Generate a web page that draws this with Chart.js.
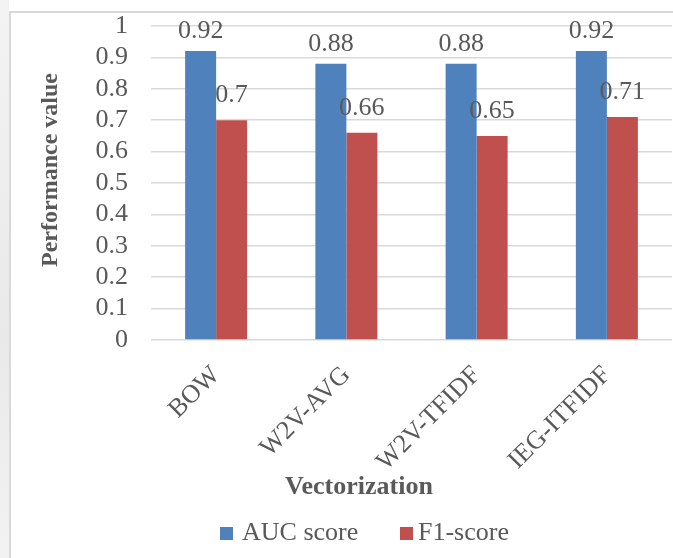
<!DOCTYPE html>
<html>
<head>
<meta charset="utf-8">
<script src="https://cdn.jsdelivr.net/npm/chart.js@4.4.1/dist/chart.umd.min.js"></script>
<style>
  html, body { margin: 0; padding: 0; background: #fff; overflow: hidden; }
  .fondo-izq { position: absolute; left: 0; top: 0; width: 9px; height: 558px;
    background: linear-gradient(#f3f3f3, #e9e9e9 60%, #f2f2f2); }
  .marco { position: absolute; left: 9px; top: 11px; width: 720px; height: 600px;
    border-left: 2px solid #d9d9d9; border-top: 2px solid #d9d9d9; }
  .base-graf { position: absolute; left: 0; top: 0; width: 673px; height: 558px; }
</style>
</head>
<body>
<div class="fondo-izq"></div>
<div class="marco"></div>
<div class="base-graf"><canvas id="graficaVector" width="673" height="558"></canvas></div>
<script>
// datos
const categorias = ['BOW', 'W2V-AVG', 'W2V-TFIDF', 'IEG-ITFIDF'];
const aucScore = [0.92, 0.88, 0.88, 0.92];
const f1Score = [0.7, 0.66, 0.65, 0.71];
const nombresSeries = ['AUC score', 'F1-score'];
const colores = ['#4F81BD', '#C0504D'];

const fuente = 'Liberation Serif, Times New Roman, serif';
const gris = '#595959';

/* etiquetas, titulos de ejes y leyenda */
const textosExtra = {
  id: 'textosExtra',
  afterDatasetsDraw(chart) {
    const ctx = chart.ctx;
    ctx.save();
    ctx.fillStyle = gris;
    ctx.textAlign = 'center';
    ctx.textBaseline = 'middle';
    ctx.font = '26px ' + fuente;
    const subida = [20, 25];
    chart.data.datasets.forEach((ds, i) => {
      chart.getDatasetMeta(i).data.forEach((barra, j) => {
        ctx.fillText(String(ds.data[j]), barra.x, barra.y - subida[i]);
      });
    });

    // titulo eje x
    ctx.font = 'bold 26px ' + fuente;
    ctx.fillText('Vectorization', 359, 487);

    // titulo eje y
    ctx.save();
    ctx.translate(51, 170);
    ctx.rotate(-Math.PI / 2);
    ctx.font = 'bold 24px ' + fuente;
    ctx.fillText('Performance value', 0, 0);
    ctx.restore();

    // leyenda
    ctx.font = '26px ' + fuente;
    ctx.textAlign = 'left';
    const posLeyenda = [220, 400];
    nombresSeries.forEach((nombre, i) => {
      ctx.fillStyle = colores[i];
      ctx.fillRect(posLeyenda[i], 527, 13, 13);
      ctx.fillStyle = gris;
      ctx.fillText(nombre, posLeyenda[i] + (i === 0 ? 22 : 18), 533);
    });
    ctx.restore();
  }
};

const grafica = document.getElementById('graficaVector').getContext('2d');

new Chart(grafica, {
  type: 'bar',
  data: {
    labels: categorias,
    datasets: [
      { label: nombresSeries[0], data: aucScore, backgroundColor: colores[0] },
      { label: nombresSeries[1], data: f1Score, backgroundColor: colores[1] }
    ]
  },
  options: {
    responsive: false,
    animation: false,
    events: [],
    categoryPercentage: 0.476,
    barPercentage: 1,
    layout: { padding: { left: 0, right: 1, top: 26, bottom: 0 } },
    plugins: {
      legend: { display: false },
      tooltip: { enabled: false }
    },
    scales: {
      x: {
        grid: { display: false, drawTicks: false },
        border: { display: false },
        ticks: {
          autoSkip: false,
          minRotation: 45,
          maxRotation: 45,
          padding: 20,
          color: gris,
          font: { size: 26, family: fuente }
        },
        afterFit: (escala) => { escala.height = 218; }
      },
      y: {
        min: 0,
        max: 1,
        grid: { color: '#d9d9d9', lineWidth: 1.5, drawTicks: true, tickLength: 23, tickColor: 'transparent' },
        border: { display: false },
        ticks: {
          stepSize: 0.1,
          autoSkip: false,
          padding: 0,
          color: gris,
          font: { size: 26, family: fuente },
          callback: (valor) => String(+valor.toFixed(1))
        },
        afterFit: (escala) => { escala.width = 151; }
      }
    }
  },
  plugins: [textosExtra]
});
</script>
</body>
</html>
